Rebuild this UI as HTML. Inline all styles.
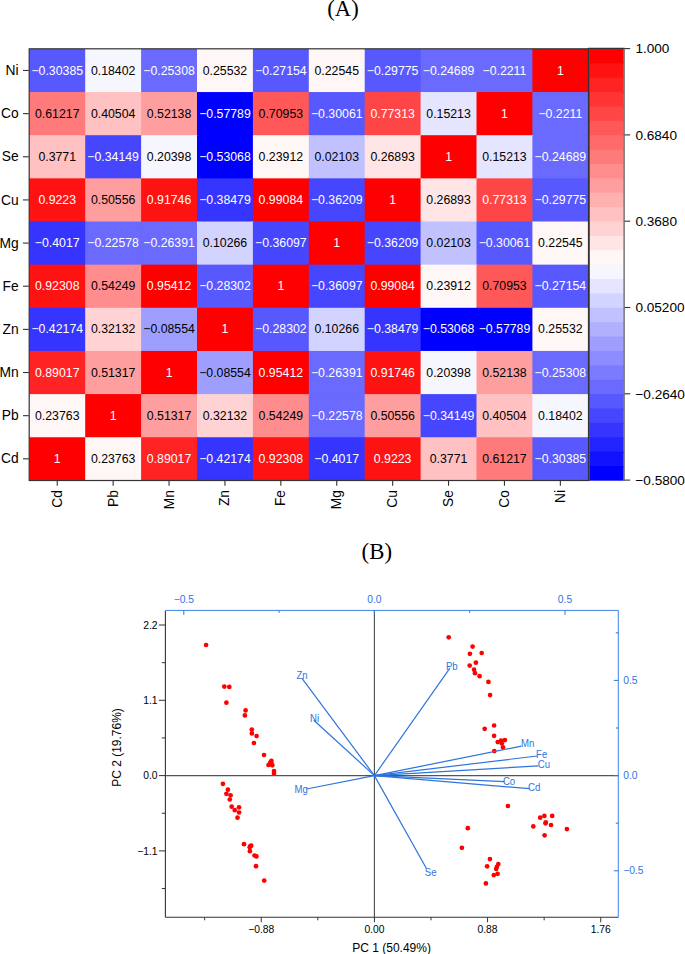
<!DOCTYPE html><html><head><meta charset="utf-8"><style>html,body{margin:0;padding:0;background:#fff;overflow:hidden;}svg{display:block;}text{font-family:"Liberation Sans",sans-serif;}</style></head><body>
<svg width="685" height="954" viewBox="0 0 685 954">
<rect width="685" height="954" fill="#fff"/>
<text x="343" y="15.8" font-family="Liberation Serif" font-size="22.6" text-anchor="middle" fill="#000" style="font-family:'Liberation Serif',serif">(A)</text>
<rect x="29.30" y="48.90" width="57.10" height="44.35" fill="#5858ff"/>
<rect x="85.20" y="48.90" width="57.10" height="44.35" fill="#f6f6ff"/>
<rect x="141.10" y="48.90" width="57.10" height="44.35" fill="#6a6aff"/>
<rect x="197.00" y="48.90" width="57.10" height="44.35" fill="#fff6f6"/>
<rect x="252.90" y="48.90" width="57.10" height="44.35" fill="#5858ff"/>
<rect x="308.80" y="48.90" width="57.10" height="44.35" fill="#fff6f6"/>
<rect x="364.70" y="48.90" width="57.10" height="44.35" fill="#5858ff"/>
<rect x="420.60" y="48.90" width="57.10" height="44.35" fill="#6a6aff"/>
<rect x="476.50" y="48.90" width="57.10" height="44.35" fill="#6a6aff"/>
<rect x="532.40" y="48.90" width="56.20" height="44.35" fill="#ff0000"/>
<rect x="29.30" y="92.05" width="57.10" height="44.35" fill="#ff7b7b"/>
<rect x="85.20" y="92.05" width="57.10" height="44.35" fill="#ffc1c1"/>
<rect x="141.10" y="92.05" width="57.10" height="44.35" fill="#ff9e9e"/>
<rect x="197.00" y="92.05" width="57.10" height="44.35" fill="#0000ff"/>
<rect x="252.90" y="92.05" width="57.10" height="44.35" fill="#ff5858"/>
<rect x="308.80" y="92.05" width="57.10" height="44.35" fill="#5858ff"/>
<rect x="364.70" y="92.05" width="57.10" height="44.35" fill="#ff4646"/>
<rect x="420.60" y="92.05" width="57.10" height="44.35" fill="#e5e5ff"/>
<rect x="476.50" y="92.05" width="57.10" height="44.35" fill="#ff0000"/>
<rect x="532.40" y="92.05" width="56.20" height="44.35" fill="#6a6aff"/>
<rect x="29.30" y="135.20" width="57.10" height="44.35" fill="#ffc1c1"/>
<rect x="85.20" y="135.20" width="57.10" height="44.35" fill="#4646ff"/>
<rect x="141.10" y="135.20" width="57.10" height="44.35" fill="#f6f6ff"/>
<rect x="197.00" y="135.20" width="57.10" height="44.35" fill="#0000ff"/>
<rect x="252.90" y="135.20" width="57.10" height="44.35" fill="#fff6f6"/>
<rect x="308.80" y="135.20" width="57.10" height="44.35" fill="#c1c1ff"/>
<rect x="364.70" y="135.20" width="57.10" height="44.35" fill="#ffe5e5"/>
<rect x="420.60" y="135.20" width="57.10" height="44.35" fill="#ff0000"/>
<rect x="476.50" y="135.20" width="57.10" height="44.35" fill="#e5e5ff"/>
<rect x="532.40" y="135.20" width="56.20" height="44.35" fill="#6a6aff"/>
<rect x="29.30" y="178.35" width="57.10" height="44.35" fill="#ff1212"/>
<rect x="85.20" y="178.35" width="57.10" height="44.35" fill="#ff9e9e"/>
<rect x="141.10" y="178.35" width="57.10" height="44.35" fill="#ff1212"/>
<rect x="197.00" y="178.35" width="57.10" height="44.35" fill="#3535ff"/>
<rect x="252.90" y="178.35" width="57.10" height="44.35" fill="#ff0000"/>
<rect x="308.80" y="178.35" width="57.10" height="44.35" fill="#4646ff"/>
<rect x="364.70" y="178.35" width="57.10" height="44.35" fill="#ff0000"/>
<rect x="420.60" y="178.35" width="57.10" height="44.35" fill="#ffe5e5"/>
<rect x="476.50" y="178.35" width="57.10" height="44.35" fill="#ff4646"/>
<rect x="532.40" y="178.35" width="56.20" height="44.35" fill="#5858ff"/>
<rect x="29.30" y="221.50" width="57.10" height="44.35" fill="#3535ff"/>
<rect x="85.20" y="221.50" width="57.10" height="44.35" fill="#6a6aff"/>
<rect x="141.10" y="221.50" width="57.10" height="44.35" fill="#6a6aff"/>
<rect x="197.00" y="221.50" width="57.10" height="44.35" fill="#d3d3ff"/>
<rect x="252.90" y="221.50" width="57.10" height="44.35" fill="#4646ff"/>
<rect x="308.80" y="221.50" width="57.10" height="44.35" fill="#ff0000"/>
<rect x="364.70" y="221.50" width="57.10" height="44.35" fill="#4646ff"/>
<rect x="420.60" y="221.50" width="57.10" height="44.35" fill="#c1c1ff"/>
<rect x="476.50" y="221.50" width="57.10" height="44.35" fill="#5858ff"/>
<rect x="532.40" y="221.50" width="56.20" height="44.35" fill="#fff6f6"/>
<rect x="29.30" y="264.65" width="57.10" height="44.35" fill="#ff1212"/>
<rect x="85.20" y="264.65" width="57.10" height="44.35" fill="#ff8d8d"/>
<rect x="141.10" y="264.65" width="57.10" height="44.35" fill="#ff0000"/>
<rect x="197.00" y="264.65" width="57.10" height="44.35" fill="#5858ff"/>
<rect x="252.90" y="264.65" width="57.10" height="44.35" fill="#ff0000"/>
<rect x="308.80" y="264.65" width="57.10" height="44.35" fill="#4646ff"/>
<rect x="364.70" y="264.65" width="57.10" height="44.35" fill="#ff0000"/>
<rect x="420.60" y="264.65" width="57.10" height="44.35" fill="#fff6f6"/>
<rect x="476.50" y="264.65" width="57.10" height="44.35" fill="#ff5858"/>
<rect x="532.40" y="264.65" width="56.20" height="44.35" fill="#5858ff"/>
<rect x="29.30" y="307.80" width="57.10" height="44.35" fill="#3535ff"/>
<rect x="85.20" y="307.80" width="57.10" height="44.35" fill="#ffd3d3"/>
<rect x="141.10" y="307.80" width="57.10" height="44.35" fill="#9e9eff"/>
<rect x="197.00" y="307.80" width="57.10" height="44.35" fill="#ff0000"/>
<rect x="252.90" y="307.80" width="57.10" height="44.35" fill="#5858ff"/>
<rect x="308.80" y="307.80" width="57.10" height="44.35" fill="#d3d3ff"/>
<rect x="364.70" y="307.80" width="57.10" height="44.35" fill="#3535ff"/>
<rect x="420.60" y="307.80" width="57.10" height="44.35" fill="#0000ff"/>
<rect x="476.50" y="307.80" width="57.10" height="44.35" fill="#0000ff"/>
<rect x="532.40" y="307.80" width="56.20" height="44.35" fill="#fff6f6"/>
<rect x="29.30" y="350.95" width="57.10" height="44.35" fill="#ff2323"/>
<rect x="85.20" y="350.95" width="57.10" height="44.35" fill="#ff9e9e"/>
<rect x="141.10" y="350.95" width="57.10" height="44.35" fill="#ff0000"/>
<rect x="197.00" y="350.95" width="57.10" height="44.35" fill="#9e9eff"/>
<rect x="252.90" y="350.95" width="57.10" height="44.35" fill="#ff0000"/>
<rect x="308.80" y="350.95" width="57.10" height="44.35" fill="#6a6aff"/>
<rect x="364.70" y="350.95" width="57.10" height="44.35" fill="#ff1212"/>
<rect x="420.60" y="350.95" width="57.10" height="44.35" fill="#f6f6ff"/>
<rect x="476.50" y="350.95" width="57.10" height="44.35" fill="#ff9e9e"/>
<rect x="532.40" y="350.95" width="56.20" height="44.35" fill="#6a6aff"/>
<rect x="29.30" y="394.10" width="57.10" height="44.35" fill="#fff6f6"/>
<rect x="85.20" y="394.10" width="57.10" height="44.35" fill="#ff0000"/>
<rect x="141.10" y="394.10" width="57.10" height="44.35" fill="#ff9e9e"/>
<rect x="197.00" y="394.10" width="57.10" height="44.35" fill="#ffd3d3"/>
<rect x="252.90" y="394.10" width="57.10" height="44.35" fill="#ff8d8d"/>
<rect x="308.80" y="394.10" width="57.10" height="44.35" fill="#6a6aff"/>
<rect x="364.70" y="394.10" width="57.10" height="44.35" fill="#ff9e9e"/>
<rect x="420.60" y="394.10" width="57.10" height="44.35" fill="#4646ff"/>
<rect x="476.50" y="394.10" width="57.10" height="44.35" fill="#ffc1c1"/>
<rect x="532.40" y="394.10" width="56.20" height="44.35" fill="#f6f6ff"/>
<rect x="29.30" y="437.25" width="57.10" height="43.45" fill="#ff0000"/>
<rect x="85.20" y="437.25" width="57.10" height="43.45" fill="#fff6f6"/>
<rect x="141.10" y="437.25" width="57.10" height="43.45" fill="#ff2323"/>
<rect x="197.00" y="437.25" width="57.10" height="43.45" fill="#3535ff"/>
<rect x="252.90" y="437.25" width="57.10" height="43.45" fill="#ff1212"/>
<rect x="308.80" y="437.25" width="57.10" height="43.45" fill="#3535ff"/>
<rect x="364.70" y="437.25" width="57.10" height="43.45" fill="#ff1212"/>
<rect x="420.60" y="437.25" width="57.10" height="43.45" fill="#ffc1c1"/>
<rect x="476.50" y="437.25" width="57.10" height="43.45" fill="#ff7b7b"/>
<rect x="532.40" y="437.25" width="56.20" height="43.45" fill="#5858ff"/>
<text x="57.25" y="74.57" font-size="12.3" text-anchor="middle" fill="#fff">−0.30385</text>
<text x="113.15" y="74.57" font-size="12.3" text-anchor="middle" fill="#000">0.18402</text>
<text x="169.05" y="74.57" font-size="12.3" text-anchor="middle" fill="#fff">−0.25308</text>
<text x="224.95" y="74.57" font-size="12.3" text-anchor="middle" fill="#000">0.25532</text>
<text x="280.85" y="74.57" font-size="12.3" text-anchor="middle" fill="#fff">−0.27154</text>
<text x="336.75" y="74.57" font-size="12.3" text-anchor="middle" fill="#000">0.22545</text>
<text x="392.65" y="74.57" font-size="12.3" text-anchor="middle" fill="#fff">−0.29775</text>
<text x="448.55" y="74.57" font-size="12.3" text-anchor="middle" fill="#fff">−0.24689</text>
<text x="504.45" y="74.57" font-size="12.3" text-anchor="middle" fill="#fff">−0.2211</text>
<text x="560.35" y="74.57" font-size="12.3" text-anchor="middle" fill="#fff">1</text>
<text x="57.25" y="117.72" font-size="12.3" text-anchor="middle" fill="#000">0.61217</text>
<text x="113.15" y="117.72" font-size="12.3" text-anchor="middle" fill="#000">0.40504</text>
<text x="169.05" y="117.72" font-size="12.3" text-anchor="middle" fill="#000">0.52138</text>
<text x="224.95" y="117.72" font-size="12.3" text-anchor="middle" fill="#fff">−0.57789</text>
<text x="280.85" y="117.72" font-size="12.3" text-anchor="middle" fill="#000">0.70953</text>
<text x="336.75" y="117.72" font-size="12.3" text-anchor="middle" fill="#fff">−0.30061</text>
<text x="392.65" y="117.72" font-size="12.3" text-anchor="middle" fill="#fff">0.77313</text>
<text x="448.55" y="117.72" font-size="12.3" text-anchor="middle" fill="#000">0.15213</text>
<text x="504.45" y="117.72" font-size="12.3" text-anchor="middle" fill="#fff">1</text>
<text x="560.35" y="117.72" font-size="12.3" text-anchor="middle" fill="#fff">−0.2211</text>
<text x="57.25" y="160.88" font-size="12.3" text-anchor="middle" fill="#000">0.3771</text>
<text x="113.15" y="160.88" font-size="12.3" text-anchor="middle" fill="#fff">−0.34149</text>
<text x="169.05" y="160.88" font-size="12.3" text-anchor="middle" fill="#000">0.20398</text>
<text x="224.95" y="160.88" font-size="12.3" text-anchor="middle" fill="#fff">−0.53068</text>
<text x="280.85" y="160.88" font-size="12.3" text-anchor="middle" fill="#000">0.23912</text>
<text x="336.75" y="160.88" font-size="12.3" text-anchor="middle" fill="#000">0.02103</text>
<text x="392.65" y="160.88" font-size="12.3" text-anchor="middle" fill="#000">0.26893</text>
<text x="448.55" y="160.88" font-size="12.3" text-anchor="middle" fill="#fff">1</text>
<text x="504.45" y="160.88" font-size="12.3" text-anchor="middle" fill="#000">0.15213</text>
<text x="560.35" y="160.88" font-size="12.3" text-anchor="middle" fill="#fff">−0.24689</text>
<text x="57.25" y="204.03" font-size="12.3" text-anchor="middle" fill="#fff">0.9223</text>
<text x="113.15" y="204.03" font-size="12.3" text-anchor="middle" fill="#000">0.50556</text>
<text x="169.05" y="204.03" font-size="12.3" text-anchor="middle" fill="#fff">0.91746</text>
<text x="224.95" y="204.03" font-size="12.3" text-anchor="middle" fill="#fff">−0.38479</text>
<text x="280.85" y="204.03" font-size="12.3" text-anchor="middle" fill="#fff">0.99084</text>
<text x="336.75" y="204.03" font-size="12.3" text-anchor="middle" fill="#fff">−0.36209</text>
<text x="392.65" y="204.03" font-size="12.3" text-anchor="middle" fill="#fff">1</text>
<text x="448.55" y="204.03" font-size="12.3" text-anchor="middle" fill="#000">0.26893</text>
<text x="504.45" y="204.03" font-size="12.3" text-anchor="middle" fill="#fff">0.77313</text>
<text x="560.35" y="204.03" font-size="12.3" text-anchor="middle" fill="#fff">−0.29775</text>
<text x="57.25" y="247.17" font-size="12.3" text-anchor="middle" fill="#fff">−0.4017</text>
<text x="113.15" y="247.17" font-size="12.3" text-anchor="middle" fill="#fff">−0.22578</text>
<text x="169.05" y="247.17" font-size="12.3" text-anchor="middle" fill="#fff">−0.26391</text>
<text x="224.95" y="247.17" font-size="12.3" text-anchor="middle" fill="#000">0.10266</text>
<text x="280.85" y="247.17" font-size="12.3" text-anchor="middle" fill="#fff">−0.36097</text>
<text x="336.75" y="247.17" font-size="12.3" text-anchor="middle" fill="#fff">1</text>
<text x="392.65" y="247.17" font-size="12.3" text-anchor="middle" fill="#fff">−0.36209</text>
<text x="448.55" y="247.17" font-size="12.3" text-anchor="middle" fill="#000">0.02103</text>
<text x="504.45" y="247.17" font-size="12.3" text-anchor="middle" fill="#fff">−0.30061</text>
<text x="560.35" y="247.17" font-size="12.3" text-anchor="middle" fill="#000">0.22545</text>
<text x="57.25" y="290.32" font-size="12.3" text-anchor="middle" fill="#fff">0.92308</text>
<text x="113.15" y="290.32" font-size="12.3" text-anchor="middle" fill="#000">0.54249</text>
<text x="169.05" y="290.32" font-size="12.3" text-anchor="middle" fill="#fff">0.95412</text>
<text x="224.95" y="290.32" font-size="12.3" text-anchor="middle" fill="#fff">−0.28302</text>
<text x="280.85" y="290.32" font-size="12.3" text-anchor="middle" fill="#fff">1</text>
<text x="336.75" y="290.32" font-size="12.3" text-anchor="middle" fill="#fff">−0.36097</text>
<text x="392.65" y="290.32" font-size="12.3" text-anchor="middle" fill="#fff">0.99084</text>
<text x="448.55" y="290.32" font-size="12.3" text-anchor="middle" fill="#000">0.23912</text>
<text x="504.45" y="290.32" font-size="12.3" text-anchor="middle" fill="#000">0.70953</text>
<text x="560.35" y="290.32" font-size="12.3" text-anchor="middle" fill="#fff">−0.27154</text>
<text x="57.25" y="333.47" font-size="12.3" text-anchor="middle" fill="#fff">−0.42174</text>
<text x="113.15" y="333.47" font-size="12.3" text-anchor="middle" fill="#000">0.32132</text>
<text x="169.05" y="333.47" font-size="12.3" text-anchor="middle" fill="#000">−0.08554</text>
<text x="224.95" y="333.47" font-size="12.3" text-anchor="middle" fill="#fff">1</text>
<text x="280.85" y="333.47" font-size="12.3" text-anchor="middle" fill="#fff">−0.28302</text>
<text x="336.75" y="333.47" font-size="12.3" text-anchor="middle" fill="#000">0.10266</text>
<text x="392.65" y="333.47" font-size="12.3" text-anchor="middle" fill="#fff">−0.38479</text>
<text x="448.55" y="333.47" font-size="12.3" text-anchor="middle" fill="#fff">−0.53068</text>
<text x="504.45" y="333.47" font-size="12.3" text-anchor="middle" fill="#fff">−0.57789</text>
<text x="560.35" y="333.47" font-size="12.3" text-anchor="middle" fill="#000">0.25532</text>
<text x="57.25" y="376.62" font-size="12.3" text-anchor="middle" fill="#fff">0.89017</text>
<text x="113.15" y="376.62" font-size="12.3" text-anchor="middle" fill="#000">0.51317</text>
<text x="169.05" y="376.62" font-size="12.3" text-anchor="middle" fill="#fff">1</text>
<text x="224.95" y="376.62" font-size="12.3" text-anchor="middle" fill="#000">−0.08554</text>
<text x="280.85" y="376.62" font-size="12.3" text-anchor="middle" fill="#fff">0.95412</text>
<text x="336.75" y="376.62" font-size="12.3" text-anchor="middle" fill="#fff">−0.26391</text>
<text x="392.65" y="376.62" font-size="12.3" text-anchor="middle" fill="#fff">0.91746</text>
<text x="448.55" y="376.62" font-size="12.3" text-anchor="middle" fill="#000">0.20398</text>
<text x="504.45" y="376.62" font-size="12.3" text-anchor="middle" fill="#000">0.52138</text>
<text x="560.35" y="376.62" font-size="12.3" text-anchor="middle" fill="#fff">−0.25308</text>
<text x="57.25" y="419.77" font-size="12.3" text-anchor="middle" fill="#000">0.23763</text>
<text x="113.15" y="419.77" font-size="12.3" text-anchor="middle" fill="#fff">1</text>
<text x="169.05" y="419.77" font-size="12.3" text-anchor="middle" fill="#000">0.51317</text>
<text x="224.95" y="419.77" font-size="12.3" text-anchor="middle" fill="#000">0.32132</text>
<text x="280.85" y="419.77" font-size="12.3" text-anchor="middle" fill="#000">0.54249</text>
<text x="336.75" y="419.77" font-size="12.3" text-anchor="middle" fill="#fff">−0.22578</text>
<text x="392.65" y="419.77" font-size="12.3" text-anchor="middle" fill="#000">0.50556</text>
<text x="448.55" y="419.77" font-size="12.3" text-anchor="middle" fill="#fff">−0.34149</text>
<text x="504.45" y="419.77" font-size="12.3" text-anchor="middle" fill="#000">0.40504</text>
<text x="560.35" y="419.77" font-size="12.3" text-anchor="middle" fill="#000">0.18402</text>
<text x="57.25" y="462.93" font-size="12.3" text-anchor="middle" fill="#fff">1</text>
<text x="113.15" y="462.93" font-size="12.3" text-anchor="middle" fill="#000">0.23763</text>
<text x="169.05" y="462.93" font-size="12.3" text-anchor="middle" fill="#fff">0.89017</text>
<text x="224.95" y="462.93" font-size="12.3" text-anchor="middle" fill="#fff">−0.42174</text>
<text x="280.85" y="462.93" font-size="12.3" text-anchor="middle" fill="#fff">0.92308</text>
<text x="336.75" y="462.93" font-size="12.3" text-anchor="middle" fill="#fff">−0.4017</text>
<text x="392.65" y="462.93" font-size="12.3" text-anchor="middle" fill="#fff">0.9223</text>
<text x="448.55" y="462.93" font-size="12.3" text-anchor="middle" fill="#000">0.3771</text>
<text x="504.45" y="462.93" font-size="12.3" text-anchor="middle" fill="#000">0.61217</text>
<text x="560.35" y="462.93" font-size="12.3" text-anchor="middle" fill="#fff">−0.30385</text>
<rect x="29.2" y="48.8" width="559.6" height="431.7" fill="none" stroke="#333" stroke-width="1.2"/>
<line x1="23" y1="70.47" x2="28.80" y2="70.47" stroke="#333" stroke-width="1.1"/>
<text x="18.6" y="75.07" font-size="13.8" text-anchor="end" fill="#000">Ni</text>
<line x1="23" y1="113.62" x2="28.80" y2="113.62" stroke="#333" stroke-width="1.1"/>
<text x="18.6" y="118.22" font-size="13.8" text-anchor="end" fill="#000">Co</text>
<line x1="23" y1="156.78" x2="28.80" y2="156.78" stroke="#333" stroke-width="1.1"/>
<text x="18.6" y="161.38" font-size="13.8" text-anchor="end" fill="#000">Se</text>
<line x1="23" y1="199.93" x2="28.80" y2="199.93" stroke="#333" stroke-width="1.1"/>
<text x="18.6" y="204.53" font-size="13.8" text-anchor="end" fill="#000">Cu</text>
<line x1="23" y1="243.07" x2="28.80" y2="243.07" stroke="#333" stroke-width="1.1"/>
<text x="18.6" y="247.67" font-size="13.8" text-anchor="end" fill="#000">Mg</text>
<line x1="23" y1="286.22" x2="28.80" y2="286.22" stroke="#333" stroke-width="1.1"/>
<text x="18.6" y="290.82" font-size="13.8" text-anchor="end" fill="#000">Fe</text>
<line x1="23" y1="329.37" x2="28.80" y2="329.37" stroke="#333" stroke-width="1.1"/>
<text x="18.6" y="333.97" font-size="13.8" text-anchor="end" fill="#000">Zn</text>
<line x1="23" y1="372.52" x2="28.80" y2="372.52" stroke="#333" stroke-width="1.1"/>
<text x="18.6" y="377.12" font-size="13.8" text-anchor="end" fill="#000">Mn</text>
<line x1="23" y1="415.67" x2="28.80" y2="415.67" stroke="#333" stroke-width="1.1"/>
<text x="18.6" y="420.27" font-size="13.8" text-anchor="end" fill="#000">Pb</text>
<line x1="23" y1="458.82" x2="28.80" y2="458.82" stroke="#333" stroke-width="1.1"/>
<text x="18.6" y="463.43" font-size="13.8" text-anchor="end" fill="#000">Cd</text>
<line x1="57.25" y1="480.40" x2="57.25" y2="485.8" stroke="#333" stroke-width="1.1"/>
<text transform="translate(61.75,490.0) rotate(-90)" font-size="13.8" text-anchor="end" fill="#000">Cd</text>
<line x1="113.15" y1="480.40" x2="113.15" y2="485.8" stroke="#333" stroke-width="1.1"/>
<text transform="translate(117.65,490.0) rotate(-90)" font-size="13.8" text-anchor="end" fill="#000">Pb</text>
<line x1="169.05" y1="480.40" x2="169.05" y2="485.8" stroke="#333" stroke-width="1.1"/>
<text transform="translate(173.55,490.0) rotate(-90)" font-size="13.8" text-anchor="end" fill="#000">Mn</text>
<line x1="224.95" y1="480.40" x2="224.95" y2="485.8" stroke="#333" stroke-width="1.1"/>
<text transform="translate(229.45,490.0) rotate(-90)" font-size="13.8" text-anchor="end" fill="#000">Zn</text>
<line x1="280.85" y1="480.40" x2="280.85" y2="485.8" stroke="#333" stroke-width="1.1"/>
<text transform="translate(285.35,490.0) rotate(-90)" font-size="13.8" text-anchor="end" fill="#000">Fe</text>
<line x1="336.75" y1="480.40" x2="336.75" y2="485.8" stroke="#333" stroke-width="1.1"/>
<text transform="translate(341.25,490.0) rotate(-90)" font-size="13.8" text-anchor="end" fill="#000">Mg</text>
<line x1="392.65" y1="480.40" x2="392.65" y2="485.8" stroke="#333" stroke-width="1.1"/>
<text transform="translate(397.15,490.0) rotate(-90)" font-size="13.8" text-anchor="end" fill="#000">Cu</text>
<line x1="448.55" y1="480.40" x2="448.55" y2="485.8" stroke="#333" stroke-width="1.1"/>
<text transform="translate(453.05,490.0) rotate(-90)" font-size="13.8" text-anchor="end" fill="#000">Se</text>
<line x1="504.45" y1="480.40" x2="504.45" y2="485.8" stroke="#333" stroke-width="1.1"/>
<text transform="translate(508.95,490.0) rotate(-90)" font-size="13.8" text-anchor="end" fill="#000">Co</text>
<line x1="560.35" y1="480.40" x2="560.35" y2="485.8" stroke="#333" stroke-width="1.1"/>
<text transform="translate(564.85,490.0) rotate(-90)" font-size="13.8" text-anchor="end" fill="#000">Ni</text>
<rect x="589.80" y="48.90" width="33.80" height="15.58" fill="#ff0000"/>
<rect x="589.80" y="63.28" width="33.80" height="15.58" fill="#ff1212"/>
<rect x="589.80" y="77.67" width="33.80" height="15.58" fill="#ff2323"/>
<rect x="589.80" y="92.05" width="33.80" height="15.58" fill="#ff3535"/>
<rect x="589.80" y="106.43" width="33.80" height="15.58" fill="#ff4646"/>
<rect x="589.80" y="120.82" width="33.80" height="15.58" fill="#ff5858"/>
<rect x="589.80" y="135.20" width="33.80" height="15.58" fill="#ff6a6a"/>
<rect x="589.80" y="149.58" width="33.80" height="15.58" fill="#ff7b7b"/>
<rect x="589.80" y="163.97" width="33.80" height="15.58" fill="#ff8d8d"/>
<rect x="589.80" y="178.35" width="33.80" height="15.58" fill="#ff9e9e"/>
<rect x="589.80" y="192.73" width="33.80" height="15.58" fill="#ffb0b0"/>
<rect x="589.80" y="207.12" width="33.80" height="15.58" fill="#ffc1c1"/>
<rect x="589.80" y="221.50" width="33.80" height="15.58" fill="#ffd3d3"/>
<rect x="589.80" y="235.88" width="33.80" height="15.58" fill="#ffe5e5"/>
<rect x="589.80" y="250.27" width="33.80" height="15.58" fill="#fff6f6"/>
<rect x="589.80" y="264.65" width="33.80" height="15.58" fill="#f6f6ff"/>
<rect x="589.80" y="279.03" width="33.80" height="15.58" fill="#e5e5ff"/>
<rect x="589.80" y="293.42" width="33.80" height="15.58" fill="#d3d3ff"/>
<rect x="589.80" y="307.80" width="33.80" height="15.58" fill="#c1c1ff"/>
<rect x="589.80" y="322.18" width="33.80" height="15.58" fill="#b0b0ff"/>
<rect x="589.80" y="336.57" width="33.80" height="15.58" fill="#9e9eff"/>
<rect x="589.80" y="350.95" width="33.80" height="15.58" fill="#8d8dff"/>
<rect x="589.80" y="365.33" width="33.80" height="15.58" fill="#7b7bff"/>
<rect x="589.80" y="379.72" width="33.80" height="15.58" fill="#6a6aff"/>
<rect x="589.80" y="394.10" width="33.80" height="15.58" fill="#5858ff"/>
<rect x="589.80" y="408.48" width="33.80" height="15.58" fill="#4646ff"/>
<rect x="589.80" y="422.87" width="33.80" height="15.58" fill="#3535ff"/>
<rect x="589.80" y="437.25" width="33.80" height="15.58" fill="#2323ff"/>
<rect x="589.80" y="451.63" width="33.80" height="15.58" fill="#1212ff"/>
<rect x="589.80" y="466.02" width="33.80" height="14.68" fill="#0000ff"/>
<line x1="588.80" y1="48.40" x2="588.80" y2="480.90" stroke="#333" stroke-width="1.8"/>
<line x1="624.10" y1="47.90" x2="624.10" y2="480.90" stroke="#444" stroke-width="1.1"/>
<line x1="588.30" y1="48.40" x2="624.60" y2="48.40" stroke="#333" stroke-width="1.2"/>
<line x1="624.60" y1="48.60" x2="630.2" y2="48.60" stroke="#333" stroke-width="1.1"/>
<text x="635.4" y="53.40" font-size="13.6" fill="#000">1.000</text>
<line x1="624.60" y1="134.90" x2="630.2" y2="134.90" stroke="#333" stroke-width="1.1"/>
<text x="635.4" y="139.70" font-size="13.6" fill="#000">0.6840</text>
<line x1="624.60" y1="221.20" x2="630.2" y2="221.20" stroke="#333" stroke-width="1.1"/>
<text x="635.4" y="226.00" font-size="13.6" fill="#000">0.3680</text>
<line x1="624.60" y1="307.50" x2="630.2" y2="307.50" stroke="#333" stroke-width="1.1"/>
<text x="635.4" y="312.30" font-size="13.6" fill="#000">0.05200</text>
<line x1="624.60" y1="393.80" x2="630.2" y2="393.80" stroke="#333" stroke-width="1.1"/>
<text x="635.4" y="398.60" font-size="13.6" fill="#000">−0.2640</text>
<line x1="624.60" y1="480.10" x2="630.2" y2="480.10" stroke="#333" stroke-width="1.1"/>
<text x="635.4" y="484.90" font-size="13.6" fill="#000">−0.5800</text>
<text x="376.8" y="558.6" font-size="22.8" text-anchor="middle" fill="#000" style="font-family:'Liberation Serif',serif">(B)</text>
<line x1="374.4" y1="610.4" x2="374.4" y2="917.3" stroke="#4a4a4a" stroke-width="1.1"/>
<line x1="165.4" y1="775.6" x2="618.3" y2="775.6" stroke="#555" stroke-width="1.1"/>
<circle cx="206.1" cy="645.0" r="2.35" fill="#f00"/>
<circle cx="224.3" cy="686.6" r="2.35" fill="#f00"/>
<circle cx="229.3" cy="686.9" r="2.35" fill="#f00"/>
<circle cx="226.4" cy="702.7" r="2.35" fill="#f00"/>
<circle cx="245.6" cy="710.4" r="2.35" fill="#f00"/>
<circle cx="244.9" cy="715.4" r="2.35" fill="#f00"/>
<circle cx="251.8" cy="729.6" r="2.35" fill="#f00"/>
<circle cx="251.9" cy="733.4" r="2.35" fill="#f00"/>
<circle cx="256.6" cy="736.0" r="2.35" fill="#f00"/>
<circle cx="253.9" cy="743.0" r="2.35" fill="#f00"/>
<circle cx="264.0" cy="755.0" r="2.35" fill="#f00"/>
<circle cx="271.4" cy="760.9" r="2.35" fill="#f00"/>
<circle cx="270.2" cy="762.6" r="2.35" fill="#f00"/>
<circle cx="268.5" cy="765.0" r="2.35" fill="#f00"/>
<circle cx="272.3" cy="765.3" r="2.35" fill="#f00"/>
<circle cx="271.4" cy="763.4" r="2.35" fill="#f00"/>
<circle cx="274.0" cy="771.0" r="2.35" fill="#f00"/>
<circle cx="274.0" cy="773.5" r="2.35" fill="#f00"/>
<circle cx="222.9" cy="783.8" r="2.35" fill="#f00"/>
<circle cx="227.9" cy="789.7" r="2.35" fill="#f00"/>
<circle cx="226.4" cy="793.8" r="2.35" fill="#f00"/>
<circle cx="230.6" cy="795.3" r="2.35" fill="#f00"/>
<circle cx="229.8" cy="799.5" r="2.35" fill="#f00"/>
<circle cx="231.7" cy="806.7" r="2.35" fill="#f00"/>
<circle cx="239.0" cy="807.3" r="2.35" fill="#f00"/>
<circle cx="234.8" cy="810.2" r="2.35" fill="#f00"/>
<circle cx="239.1" cy="812.5" r="2.35" fill="#f00"/>
<circle cx="237.5" cy="817.7" r="2.35" fill="#f00"/>
<circle cx="244.0" cy="844.2" r="2.35" fill="#f00"/>
<circle cx="250.3" cy="846.0" r="2.35" fill="#f00"/>
<circle cx="251.2" cy="845.7" r="2.35" fill="#f00"/>
<circle cx="249.7" cy="847.3" r="2.35" fill="#f00"/>
<circle cx="249.9" cy="851.2" r="2.35" fill="#f00"/>
<circle cx="254.5" cy="855.5" r="2.35" fill="#f00"/>
<circle cx="256.4" cy="856.4" r="2.35" fill="#f00"/>
<circle cx="256.0" cy="866.2" r="2.35" fill="#f00"/>
<circle cx="264.2" cy="880.6" r="2.35" fill="#f00"/>
<circle cx="448.7" cy="637.3" r="2.35" fill="#f00"/>
<circle cx="472.6" cy="646.6" r="2.35" fill="#f00"/>
<circle cx="469.9" cy="653.8" r="2.35" fill="#f00"/>
<circle cx="481.7" cy="653.0" r="2.35" fill="#f00"/>
<circle cx="475.9" cy="662.7" r="2.35" fill="#f00"/>
<circle cx="469.7" cy="665.6" r="2.35" fill="#f00"/>
<circle cx="474.1" cy="669.7" r="2.35" fill="#f00"/>
<circle cx="475.0" cy="673.2" r="2.35" fill="#f00"/>
<circle cx="479.6" cy="676.2" r="2.35" fill="#f00"/>
<circle cx="488.4" cy="681.9" r="2.35" fill="#f00"/>
<circle cx="490.1" cy="695.1" r="2.35" fill="#f00"/>
<circle cx="494.1" cy="725.5" r="2.35" fill="#f00"/>
<circle cx="484.7" cy="728.8" r="2.35" fill="#f00"/>
<circle cx="494.1" cy="735.8" r="2.35" fill="#f00"/>
<circle cx="497.7" cy="742.1" r="2.35" fill="#f00"/>
<circle cx="501.0" cy="740.7" r="2.35" fill="#f00"/>
<circle cx="504.9" cy="740.1" r="2.35" fill="#f00"/>
<circle cx="501.8" cy="743.4" r="2.35" fill="#f00"/>
<circle cx="503.0" cy="747.3" r="2.35" fill="#f00"/>
<circle cx="494.3" cy="751.1" r="2.35" fill="#f00"/>
<circle cx="507.9" cy="806.0" r="2.35" fill="#f00"/>
<circle cx="544.4" cy="815.9" r="2.35" fill="#f00"/>
<circle cx="552.2" cy="815.9" r="2.35" fill="#f00"/>
<circle cx="540.2" cy="817.7" r="2.35" fill="#f00"/>
<circle cx="545.8" cy="822.4" r="2.35" fill="#f00"/>
<circle cx="545.5" cy="823.3" r="2.35" fill="#f00"/>
<circle cx="551.0" cy="825.0" r="2.35" fill="#f00"/>
<circle cx="533.3" cy="826.4" r="2.35" fill="#f00"/>
<circle cx="566.9" cy="829.1" r="2.35" fill="#f00"/>
<circle cx="544.6" cy="835.3" r="2.35" fill="#f00"/>
<circle cx="467.8" cy="828.2" r="2.35" fill="#f00"/>
<circle cx="461.9" cy="847.8" r="2.35" fill="#f00"/>
<circle cx="489.9" cy="859.1" r="2.35" fill="#f00"/>
<circle cx="487.1" cy="866.3" r="2.35" fill="#f00"/>
<circle cx="498.3" cy="864.0" r="2.35" fill="#f00"/>
<circle cx="496.9" cy="866.8" r="2.35" fill="#f00"/>
<circle cx="496.2" cy="869.0" r="2.35" fill="#f00"/>
<circle cx="493.8" cy="875.1" r="2.35" fill="#f00"/>
<circle cx="497.6" cy="873.8" r="2.35" fill="#f00"/>
<circle cx="485.9" cy="883.4" r="2.35" fill="#f00"/>
<line x1="374.4" y1="775.6" x2="449.9" y2="668.2" stroke="#2f74dc" stroke-width="1.2"/>
<line x1="374.4" y1="775.6" x2="302.0" y2="678.4" stroke="#2f74dc" stroke-width="1.2"/>
<line x1="374.4" y1="775.6" x2="313.8" y2="720.2" stroke="#2f74dc" stroke-width="1.2"/>
<line x1="374.4" y1="775.6" x2="306.6" y2="789.0" stroke="#2f74dc" stroke-width="1.2"/>
<line x1="374.4" y1="775.6" x2="426.6" y2="868.8" stroke="#2f74dc" stroke-width="1.2"/>
<line x1="374.4" y1="775.6" x2="521.5" y2="746.1" stroke="#2f74dc" stroke-width="1.2"/>
<line x1="374.4" y1="775.6" x2="537.2" y2="756.0" stroke="#2f74dc" stroke-width="1.2"/>
<line x1="374.4" y1="775.6" x2="538.4" y2="765.9" stroke="#2f74dc" stroke-width="1.2"/>
<line x1="374.4" y1="775.6" x2="504.5" y2="781.7" stroke="#2f74dc" stroke-width="1.2"/>
<line x1="374.4" y1="775.6" x2="529.4" y2="788.7" stroke="#2f74dc" stroke-width="1.2"/>
<text transform="translate(445.9,669.7) scale(1,1.1)" font-size="9.6" fill="#2f74dc">Pb</text>
<text transform="translate(296.4,679.1) scale(1,1.1)" font-size="9.6" fill="#2f74dc">Zn</text>
<text transform="translate(310.1,722.0) scale(1,1.1)" font-size="9.6" fill="#2f74dc">Ni</text>
<text transform="translate(294.6,793.3) scale(1,1.1)" font-size="9.6" fill="#2f74dc">Mg</text>
<text transform="translate(424.8,876.1) scale(1,1.1)" font-size="9.6" fill="#2f74dc">Se</text>
<text transform="translate(520.9,746.9) scale(1,1.1)" font-size="9.6" fill="#2f74dc">Mn</text>
<text transform="translate(536.1,757.8) scale(1,1.1)" font-size="9.6" fill="#2f74dc">Fe</text>
<text transform="translate(537.8,767.9) scale(1,1.1)" font-size="9.6" fill="#2f74dc">Cu</text>
<text transform="translate(502.9,784.6) scale(1,1.1)" font-size="9.6" fill="#2f74dc">Co</text>
<text transform="translate(528.0,791.4) scale(1,1.1)" font-size="9.6" fill="#2f74dc">Cd</text>
<line x1="165.4" y1="610.4" x2="165.4" y2="917.3" stroke="#333" stroke-width="1.1"/>
<line x1="165.4" y1="917.3" x2="618.3" y2="917.3" stroke="#333" stroke-width="1.1"/>
<line x1="165.4" y1="610.4" x2="618.3" y2="610.4" stroke="#3f84e6" stroke-width="1.0"/>
<line x1="618.3" y1="610.4" x2="618.3" y2="917.3" stroke="#3f84e6" stroke-width="1.0"/>
<line x1="158.9" y1="625.01" x2="165.4" y2="625.01" stroke="#333" stroke-width="1"/>
<text x="157.5" y="628.61" font-size="10.3" text-anchor="end" fill="#000">2.2</text>
<line x1="158.9" y1="700.31" x2="165.4" y2="700.31" stroke="#333" stroke-width="1"/>
<text x="157.5" y="703.91" font-size="10.3" text-anchor="end" fill="#000">1.1</text>
<line x1="158.9" y1="775.60" x2="165.4" y2="775.60" stroke="#333" stroke-width="1"/>
<text x="157.5" y="779.20" font-size="10.3" text-anchor="end" fill="#000">0.0</text>
<line x1="158.9" y1="850.89" x2="165.4" y2="850.89" stroke="#333" stroke-width="1"/>
<text x="157.5" y="854.50" font-size="10.3" text-anchor="end" fill="#000">−1.1</text>
<line x1="161.9" y1="662.66" x2="165.4" y2="662.66" stroke="#333" stroke-width="1"/>
<line x1="161.9" y1="737.95" x2="165.4" y2="737.95" stroke="#333" stroke-width="1"/>
<line x1="161.9" y1="813.25" x2="165.4" y2="813.25" stroke="#333" stroke-width="1"/>
<line x1="161.9" y1="888.54" x2="165.4" y2="888.54" stroke="#333" stroke-width="1"/>
<line x1="261.23" y1="917.3" x2="261.23" y2="922.3" stroke="#333" stroke-width="1"/>
<text x="261.23" y="933.2" font-size="10.3" text-anchor="middle" fill="#000">−0.88</text>
<line x1="374.40" y1="917.3" x2="374.40" y2="922.3" stroke="#333" stroke-width="1"/>
<text x="374.40" y="933.2" font-size="10.3" text-anchor="middle" fill="#000">0.00</text>
<line x1="487.57" y1="917.3" x2="487.57" y2="922.3" stroke="#333" stroke-width="1"/>
<text x="487.57" y="933.2" font-size="10.3" text-anchor="middle" fill="#000">0.88</text>
<line x1="600.74" y1="917.3" x2="600.74" y2="922.3" stroke="#333" stroke-width="1"/>
<text x="600.74" y="933.2" font-size="10.3" text-anchor="middle" fill="#000">1.76</text>
<line x1="204.65" y1="917.3" x2="204.65" y2="920.3" stroke="#333" stroke-width="1"/>
<line x1="317.82" y1="917.3" x2="317.82" y2="920.3" stroke="#333" stroke-width="1"/>
<line x1="430.98" y1="917.3" x2="430.98" y2="920.3" stroke="#333" stroke-width="1"/>
<line x1="544.15" y1="917.3" x2="544.15" y2="920.3" stroke="#333" stroke-width="1"/>
<text x="391.6" y="951.5" font-size="12" text-anchor="middle" fill="#000">PC 1 (50.49%)</text>
<text transform="translate(121,747.5) rotate(-90)" font-size="12" text-anchor="middle" fill="#000">PC 2 (19.76%)</text>
<line x1="183.80" y1="610.4" x2="183.80" y2="614.9" stroke="#2f74dc" stroke-width="1"/>
<text x="183.80" y="602.7" font-size="10.3" text-anchor="middle" fill="#2f74dc">−0.5</text>
<line x1="374.40" y1="610.4" x2="374.40" y2="614.9" stroke="#2f74dc" stroke-width="1"/>
<text x="374.40" y="602.7" font-size="10.3" text-anchor="middle" fill="#2f74dc">0.0</text>
<line x1="565.00" y1="610.4" x2="565.00" y2="614.9" stroke="#2f74dc" stroke-width="1"/>
<text x="565.00" y="602.7" font-size="10.3" text-anchor="middle" fill="#2f74dc">0.5</text>
<line x1="279.10" y1="610.4" x2="279.10" y2="612.9" stroke="#2f74dc" stroke-width="1"/>
<line x1="469.70" y1="610.4" x2="469.70" y2="612.9" stroke="#2f74dc" stroke-width="1"/>
<line x1="613.8" y1="680.40" x2="618.3" y2="680.40" stroke="#2f74dc" stroke-width="1"/>
<text x="623.2" y="684.00" font-size="10.3" fill="#2f74dc">0.5</text>
<line x1="613.8" y1="775.60" x2="618.3" y2="775.60" stroke="#2f74dc" stroke-width="1"/>
<text x="623.2" y="779.20" font-size="10.3" fill="#2f74dc">0.0</text>
<line x1="613.8" y1="870.80" x2="618.3" y2="870.80" stroke="#2f74dc" stroke-width="1"/>
<text x="623.2" y="874.40" font-size="10.3" fill="#2f74dc">−0.5</text>
<line x1="615.8" y1="632.80" x2="618.3" y2="632.80" stroke="#2f74dc" stroke-width="1"/>
<line x1="615.8" y1="728.00" x2="618.3" y2="728.00" stroke="#2f74dc" stroke-width="1"/>
<line x1="615.8" y1="823.20" x2="618.3" y2="823.20" stroke="#2f74dc" stroke-width="1"/>
</svg></body></html>
